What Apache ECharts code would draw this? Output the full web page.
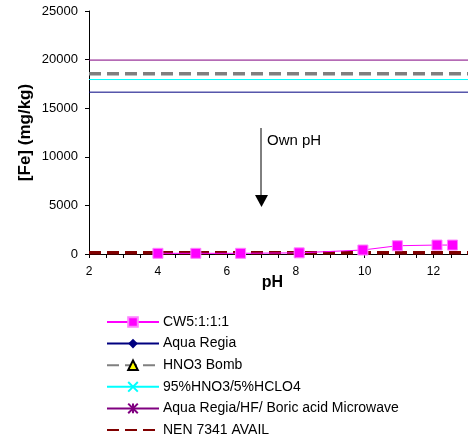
<!DOCTYPE html>
<html>
<head>
<meta charset="utf-8">
<script src="https://cdn.jsdelivr.net/npm/echarts@6/dist/echarts.min.js"></script>
<style>html,body{margin:0;padding:0;background:#fff;}#c{width:468px;height:440px;}</style>
</head>
<body>
<div id="c"></div>
<script>
// ---- data ----
const seriesNames = ['CW5:1:1:1', 'Aqua Regia', 'HNO3 Bomb', '95%HNO3/5%HCLO4', 'Aqua Regia/HF/ Boric acid Microwave', 'NEN 7341 AVAIL'];
const cw5pH = [4.0, 5.1, 6.4, 8.1, 9.95, 10.95, 12.1, 12.55];
const cw5Fe = [70, 70, 70, 120, 410, 850, 920, 920];
const constantRange = [2, 13];
const aquaRegiaFe = 16650;
const hno3BombFe = 18550;
const hclo4Fe = 17950;
const microwaveFe = 19950;
const nenFe = 130;
const xTicks = [2, 4, 6, 8, 10, 12];
const yTicks = [0, 5000, 10000, 15000, 20000, 25000];

const FONT = 'Arial, "Liberation Sans", sans-serif';
function flat(v) { return constantRange.map(x => [x, v]); }

const chart = echarts.init(document.getElementById('c'));
const option = {
  animation: false,
  backgroundColor: '#fff',
  grid: { left: 89, top: 11, right: 0, bottom: 186, containLabel: false },
  xAxis: {
    type: 'value', min: 2, max: 13, interval: 2,
    name: 'pH', nameLocation: 'middle', nameGap: 21, nameMoveOverlap: false,
    nameTextStyle: { fontFamily: FONT, fontSize: 16, fontWeight: 'bold', color: '#000', padding: [0, 12, 0, 0] },
    axisLine: { lineStyle: { color: '#000', width: 1 } },
    axisTick: { show: true, length: 4, lineStyle: { color: '#000' } },
    minorTick: { show: true, splitNumber: 4, length: 4, lineStyle: { color: '#000' } },
    axisLabel: { fontFamily: FONT, fontSize: 12, color: '#000', margin: 12, showMaxLabel: false,
      formatter: v => xTicks.indexOf(v) >= 0 ? String(v) : '' },
    splitLine: { show: false }
  },
  yAxis: {
    type: 'value', min: 0, max: 25000, interval: 5000,
    name: '[Fe] (mg/kg)', nameLocation: 'middle', nameGap: 55, nameMoveOverlap: false,
    nameTextStyle: { fontFamily: FONT, fontSize: 17, fontWeight: 'bold', color: '#000' },
    axisLine: { show: true, lineStyle: { color: '#000', width: 1 } },
    axisTick: { show: true, length: 4, lineStyle: { color: '#000' } },
    axisLabel: { fontFamily: FONT, fontSize: 13, color: '#000', margin: 11,
      formatter: v => yTicks.indexOf(v) >= 0 ? String(v) : '' },
    splitLine: { show: false }
  },
  legend: {
    orient: 'vertical', left: 106, top: 315, height: 160, padding: 0,
    itemWidth: 52, itemHeight: 12, itemGap: 7.6,
    textStyle: { fontFamily: FONT, fontSize: 14, color: '#000', padding: [0, 0, 0, -1] },
    data: seriesNames.slice(0, 5).concat([{ name: seriesNames[5], itemStyle: { opacity: 0 } }])
  },
  series: [
    { name: seriesNames[0], type: 'line', data: cw5pH.map((x, i) => [x, cw5Fe[i]]),
      symbol: 'rect', symbolSize: 10, z: 5,
      lineStyle: { color: '#ff00ff', width: 1 },
      itemStyle: { color: '#ff00ff', borderColor: '#ff80ff', borderWidth: 1 } },
    { name: seriesNames[1], type: 'line', data: flat(aquaRegiaFe), showSymbol: false,
      symbol: 'diamond', symbolSize: 10,
      lineStyle: { color: '#000080', width: 1 }, itemStyle: { color: '#000080' } },
    { name: seriesNames[2], type: 'line', data: flat(hno3BombFe), showSymbol: false,
      symbol: 'triangle', symbolSize: 9,
      lineStyle: { color: '#808080', width: 3.5, type: [12, 6] },
      itemStyle: { color: '#ffff00', borderColor: '#000', borderWidth: 1 } },
    { name: seriesNames[3], type: 'line', data: flat(hclo4Fe), showSymbol: false,
      symbol: 'path://M0,0L10,10M10,0L0,10', symbolSize: 9,
      lineStyle: { color: '#00ffff', width: 1 },
      itemStyle: { color: '#00ffff', borderColor: '#00ffff', borderWidth: 1.2 } },
    { name: seriesNames[4], type: 'line', data: flat(microwaveFe), showSymbol: false,
      symbol: 'path://M0,0L10,10M10,0L0,10M5,0L5,10', symbolSize: 9,
      lineStyle: { color: '#800080', width: 1 },
      itemStyle: { color: '#800080', borderColor: '#800080', borderWidth: 1.2 } },
    { name: seriesNames[5], type: 'line', data: flat(nenFe), showSymbol: false, symbol: 'none', z: 4,
      lineStyle: { color: '#800000', width: 3.5, type: [12, 6] }, itemStyle: { color: '#800000' } }
  ],
  graphic: [
    { type: 'line', shape: { x1: 261, y1: 128, x2: 261, y2: 197 }, style: { stroke: '#000', lineWidth: 1 } },
    { type: 'polygon', shape: { points: [[255, 195], [268, 195], [261.5, 207]] }, style: { fill: '#000' } },
    { type: 'text', left: 267, top: 133, style: { text: 'Own pH', font: '15px ' + FONT, fill: '#000' } }
  ]
};
chart.setOption(option);
</script>
</body>
</html>
